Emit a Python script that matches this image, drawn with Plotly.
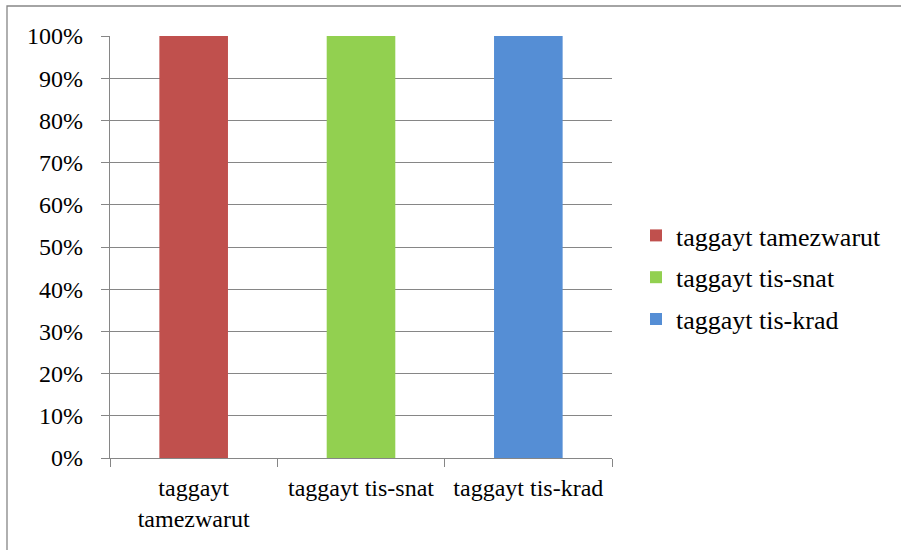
import plotly.graph_objects as go

categories = ["taggayt<br>tamezwarut", "taggayt tis-snat", "taggayt tis-krad"]
series_names = ["taggayt tamezwarut", "taggayt tis-snat", "taggayt tis-krad"]
values = [100, 100, 100]
colors = ["#C0504D", "#92D050", "#558ED5"]
y_ticks = [0, 10, 20, 30, 40, 50, 60, 70, 80, 90, 100]
y_tick_labels = ["0%", "10%", "20%", "30%", "40%", "50%", "60%", "70%", "80%", "90%", "100%"]

fig = go.Figure()
for i in range(len(categories)):
    fig.add_trace(go.Bar(
        x=[categories[i]], y=[values[i]], name=series_names[i],
        marker=dict(color=colors[i], line=dict(width=0)),
        width=0.41, legendgroup=f"g{i}",
    ))

W, H = 901, 550
ml, mr, mt, mb = 110, 289, 36, 92
pw, ph = W - ml - mr, H - mt - mb

def px(x):
    return (x - ml) / pw

def py(y):
    return (H - mb - y) / ph

fig.add_shape(type="rect", xref="paper", yref="paper",
              x0=px(7), x1=px(910), y0=py(560), y1=py(6),
              line=dict(color="#868686", width=1.3), layer="below")

font_family = "Liberation Serif"
fig.update_layout(
    width=W, height=H,
    margin=dict(l=ml, r=mr, t=mt, b=mb),
    paper_bgcolor="white", plot_bgcolor="white",
    barmode="overlay",
    font=dict(family=font_family, size=24, color="black"),
    showlegend=True,
    legend=dict(x=px(636), y=py(212), xanchor="left", yanchor="top",
                font=dict(family=font_family, size=26, color="black"),
                tracegroupgap=5, itemwidth=30),
    xaxis=dict(type="category", categoryorder="array", categoryarray=categories,
               tickson="boundaries", ticks="outside", ticklen=8,
               tickcolor="#868686", tickwidth=1.3, ticklabelstandoff=8,
               showline=True, linecolor="#868686", linewidth=1.3,
               showgrid=False, tickfont=dict(family=font_family, size=24), range=[-0.5, 2.5]),
    yaxis=dict(range=[0, 100], tickmode="array", tickvals=y_ticks, ticktext=y_tick_labels,
               ticks="outside", ticklen=8, tickcolor="#868686", tickwidth=1.3,
               ticklabelstandoff=13,
               showline=True, linecolor="#868686", linewidth=1.3,
               showgrid=True, gridcolor="#868686", gridwidth=1.3,
               zeroline=False, tickfont=dict(family=font_family, size=24)),
)

fig.write_html("out.html", config={"displayModeBar": False},
               post_script="document.body.style.margin='0';")
